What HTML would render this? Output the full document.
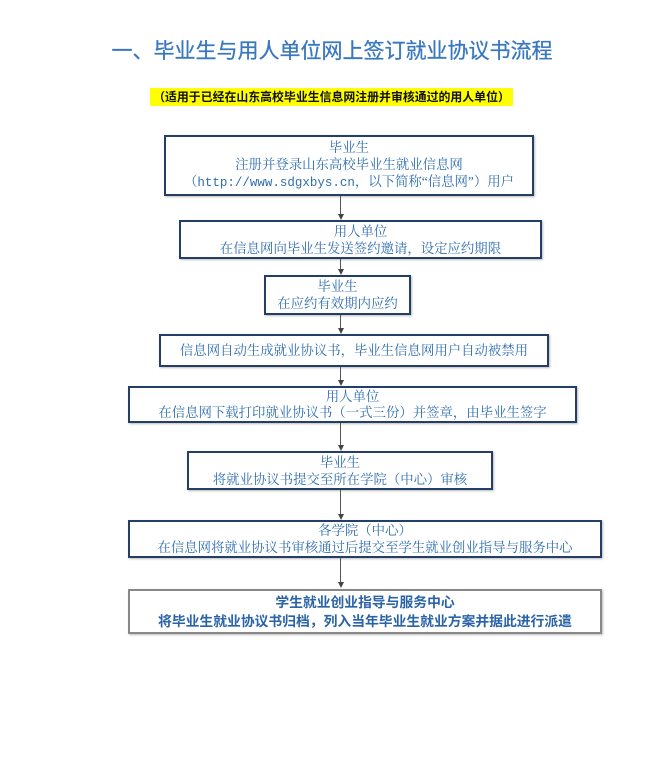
<!DOCTYPE html>
<html><head><meta charset="utf-8"><style>
body{margin:0;width:664px;height:757px;background:#fff;position:relative;overflow:hidden}
.t{position:absolute;left:0;width:664px;top:35px;text-align:center;font:21px "Liberation Sans","Noto Sans CJK SC",sans-serif;color:#3a78be;white-space:nowrap;-webkit-text-stroke:0.3px #3a78be}
.hl{position:absolute;left:150px;top:88px;width:363px;height:18px;background:#ffff00;font:bold 11.9px "Liberation Sans","Noto Sans CJK SC",sans-serif;line-height:18px;text-align:center;color:#111;white-space:nowrap}
.b{position:absolute;box-sizing:border-box;border:2px solid #243f66;font:13.4px "Liberation Serif","Noto Serif CJK SC",serif;color:#2f6eb0;text-align:center;line-height:17px;white-space:nowrap;display:flex;flex-direction:column;justify-content:center;box-shadow:1px 1px 2px #bbb}
.l{position:absolute;left:340px;width:1px;background:#555}
.a{position:absolute;width:0;height:0;border-left:3px solid transparent;border-right:3px solid transparent;border-top:6px solid #444;margin-left:-2px}
.m{font-family:"Liberation Mono",monospace;font-size:12.5px}
</style></head><body>
<div class="t">一、毕业生与用人单位网上签订就业协议书流程</div>
<div class="hl">（适用于已经在山东高校毕业生信息网注册并审核通过的用人单位）</div>

<div class="b" style="left:164px;top:135px;width:370px;height:61px">毕业生<br>注册并登录山东高校毕业生就业信息网<br><span>（<span class="m">http://www.sdgxbys.cn</span>，以下简称“信息网”）用户</span></div>
<div class="l" style="top:196px;height:20px"></div><div class="a" style="left:340px;top:214px"></div>

<div class="b" style="left:179px;top:220px;width:363px;height:39px">用人单位<br>在信息网向毕业生发送签约邀请，设定应约期限</div>
<div class="l" style="top:259px;height:12px"></div><div class="a" style="left:340px;top:269px"></div>

<div class="b" style="left:264px;top:275px;width:147px;height:40px">毕业生<br>在应约有效期内应约</div>
<div class="l" style="top:315px;height:15px"></div><div class="a" style="left:340px;top:328px"></div>

<div class="b" style="left:159px;top:334px;width:390px;height:33px">信息网自动生成就业协议书，毕业生信息网用户自动被禁用</div>
<div class="l" style="top:367px;height:15px"></div><div class="a" style="left:340px;top:380px"></div>

<div class="b" style="left:128px;top:386px;width:449px;height:37px;line-height:16px">用人单位<br>在信息网下载打印就业协议书（一式三份）并签章，由毕业生签字</div>
<div class="l" style="top:423px;height:24px"></div><div class="a" style="left:340px;top:445px"></div>

<div class="b" style="left:187px;top:451px;width:306px;height:39px">毕业生<br>将就业协议书提交至所在学院（中心）审核</div>
<div class="l" style="top:490px;height:26px"></div><div class="a" style="left:340px;top:514px"></div>

<div class="b" style="left:128px;top:520px;width:474px;height:38px">各学院（中心）<br>在信息网将就业协议书审核通过后提交至学生就业创业指导与服务中心</div>
<div class="l" style="top:558px;height:26px"></div><div class="a" style="left:340px;top:582px"></div>

<div class="b" style="left:128px;top:589px;width:474px;height:45px;border-color:#888;font-weight:bold;font-size:13.8px;font-family:'Liberation Sans','Noto Sans CJK SC',sans-serif;line-height:19px;color:#2a63a8">学生就业创业指导与服务中心<br>将毕业生就业协议书归档，列入当年毕业生就业方案并据此进行派遣</div>
</body></html>
